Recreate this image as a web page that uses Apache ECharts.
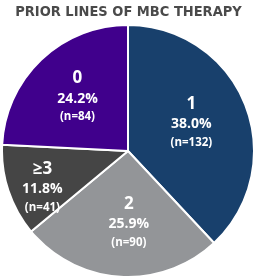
<!DOCTYPE html>
<html>
<head>
<meta charset="utf-8">
<script src="https://cdn.jsdelivr.net/npm/echarts@6/dist/echarts.min.js"></script>
<style>
  html, body { margin: 0; padding: 0; background: #fff; }
  #chart { width: 257px; height: 279px; }
</style>
</head>
<body>
<div id="chart"></div>
<script>
// datos del gráfico
const categorias = ["1", "2", "≥3", "0"];
const porcentajes = [38.0, 25.9, 11.8, 24.2];
const pacientes = [132, 90, 41, 84];
const colores = ["#18406c", "#939598", "#454545", "#40008c"];

const chart = echarts.init(document.getElementById("chart"));

// pequeños ajustes de posición de etiquetas (dx, dy)
const ajustes = [[2, -5], [5, 5], [-23, 15], [-5, -7]];

chart.setOption({
  animation: false,
  title: {
    text: "PRIOR LINES OF MBC THERAPY",
    left: "center",
    top: 0,
    textStyle: { color: "#4a4a4a", fontSize: 14.5, fontWeight: "bold", fontFamily: "DejaVu Sans Condensed" }
  },
  series: [{
    type: "pie",
    center: [128, 151],
    radius: 126,
    startAngle: 90,
    clockwise: true,
    itemStyle: { borderColor: "#fff", borderWidth: 2 },
    label: {
      show: true,
      position: "inside",
      formatter: p => `{a|${p.name}}\n{b|${porcentajes[p.dataIndex].toFixed(1)}%}\n{c|(n=${pacientes[p.dataIndex]})}`,
      rich: {
        a: { color: "#fff", fontSize: 17, fontWeight: "bold", fontFamily: "Open Sans", lineHeight: 22 },
        b: { color: "#fff", fontSize: 14, fontWeight: "bold", fontFamily: "Open Sans", lineHeight: 19 },
        c: { color: "#fff", fontSize: 11.5, fontWeight: "bold", fontFamily: "Open Sans", lineHeight: 17 }
      }
    },
    labelLayout: p => ({ dx: ajustes[p.dataIndex][0], dy: ajustes[p.dataIndex][1] }),
    emphasis: { disabled: true },
    data: categorias.map((c, i) => ({ name: c, value: porcentajes[i], itemStyle: { color: colores[i] } }))
  }]
});
</script>
</body>
</html>
